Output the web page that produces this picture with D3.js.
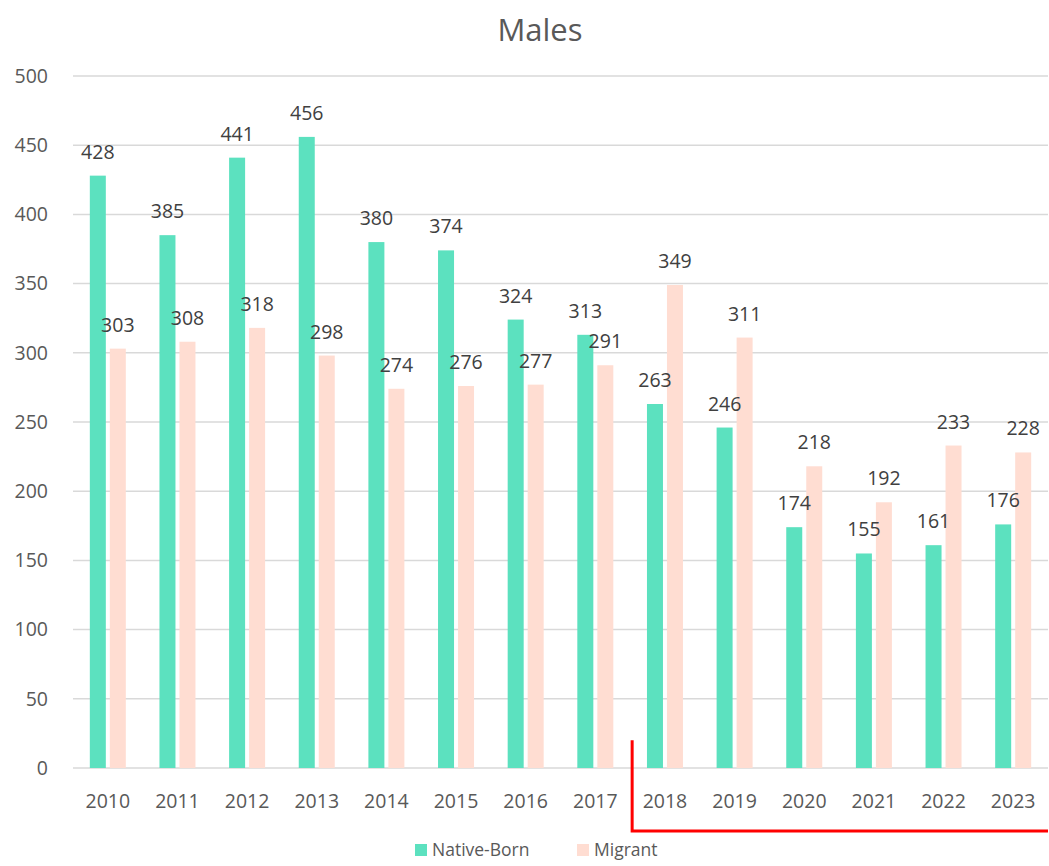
<!DOCTYPE html>
<meta charset="utf-8">
<style>
  body { margin: 0; background: #fff; }
  text { font-family: 'Open Sans', 'Noto Sans', sans-serif; fill: #595959; }
  .grid line { stroke: #d9d9d9; stroke-width: 1.5px; }
  .lbl { font-size: 19.5px; fill: #404040; text-anchor: middle; }
</style>
<script src="https://d3js.org/d3.v7.min.js"></script>
<svg width="1049" height="866"></svg>
<script>
  var years = ["2010","2011","2012","2013","2014","2015","2016","2017","2018","2019","2020","2021","2022","2023"];
  var nativeBorn = [428, 385, 441, 456, 380, 374, 324, 313, 263, 246, 174, 155, 161, 176];
  var migrant = [303, 308, 318, 298, 274, 276, 277, 291, 349, 311, 218, 192, 233, 228];
  var yTicks = [0, 50, 100, 150, 200, 250, 300, 350, 400, 450, 500];
  var seriesNames = ["Native-Born", "Migrant"];
  var colors = ["#5ce1bf", "#ffddd2"];

  var svg = d3.select("svg"),
      plotL = 73, plotR = 1048, plotT = 76, plotB = 768;

  var x = d3.scaleBand().domain(years).range([plotL, plotR]);
  var y = d3.scaleLinear().domain([0, 500]).range([plotB, plotT]);
  var barW = 16, gap = 4;

  // gridlines
  svg.append("g").attr("class", "grid")
    .selectAll("line").data(yTicks).enter().append("line")
    .attr("x1", plotL).attr("x2", plotR)
    .attr("y1", function(d) { return y(d); })
    .attr("y2", function(d) { return y(d); });

  svg.append("g").selectAll("text").data(yTicks).enter().append("text")
    .attr("x", 48).attr("y", function(d) { return y(d); })
    .attr("dy", "0.35em").attr("text-anchor", "end")
    .style("font-size", "19.5px")
    .text(function(d) { return d; });

  svg.append("g").selectAll("text").data(years).enter().append("text")
    .attr("x", function(d) { return x(d) + x.bandwidth() / 2; })
    .attr("y", 801).attr("dy", "0.35em").attr("text-anchor", "middle")
    .style("font-size", "19.5px")
    .text(function(d) { return d; });

  var series = [nativeBorn, migrant];
  var barsG = svg.append("g"), labelsG = svg.append("g");
  series.forEach(function(vals, si) {
    var off = si === 0 ? -(barW + gap / 2) : gap / 2;
    barsG.append("g").selectAll("rect").data(vals).enter().append("rect")
      .attr("x", function(d, i) { return x(years[i]) + x.bandwidth() / 2 + off; })
      .attr("y", function(d) { return y(d); })
      .attr("width", barW)
      .attr("height", function(d) { return y(0) - y(d); })
      .attr("fill", colors[si]);
    labelsG.append("g").selectAll("text").data(vals).enter().append("text")
      .attr("class", "lbl")
      .attr("x", function(d, i) { return x(years[i]) + x.bandwidth() / 2 + off + barW / 2; })
      .attr("y", function(d) { return y(d) - 17; })
      .text(function(d) { return d; });
  });

  // title
  svg.append("text").attr("x", 540).attr("y", 30).attr("dy", "0.35em")
    .attr("text-anchor", "middle").style("font-size", "31px").text("Males");

  // red annotation bracket
  var bx = x("2018") + 2;
  svg.append("path")
    .attr("d", "M" + bx + "," + y(20) + "V831H" + plotR)
    .attr("fill", "none").attr("stroke", "#ff0000").attr("stroke-width", 3);

  // legend
  var legX = [415, 577];
  seriesNames.forEach(function(n, i) {
    svg.append("rect").attr("x", legX[i]).attr("y", 844).attr("width", 12).attr("height", 12)
      .attr("fill", colors[i]);
    svg.append("text").attr("x", legX[i] + 17).attr("y", 850).attr("dy", "0.35em")
      .style("font-size", "17.5px").text(n);
  });
</script>
